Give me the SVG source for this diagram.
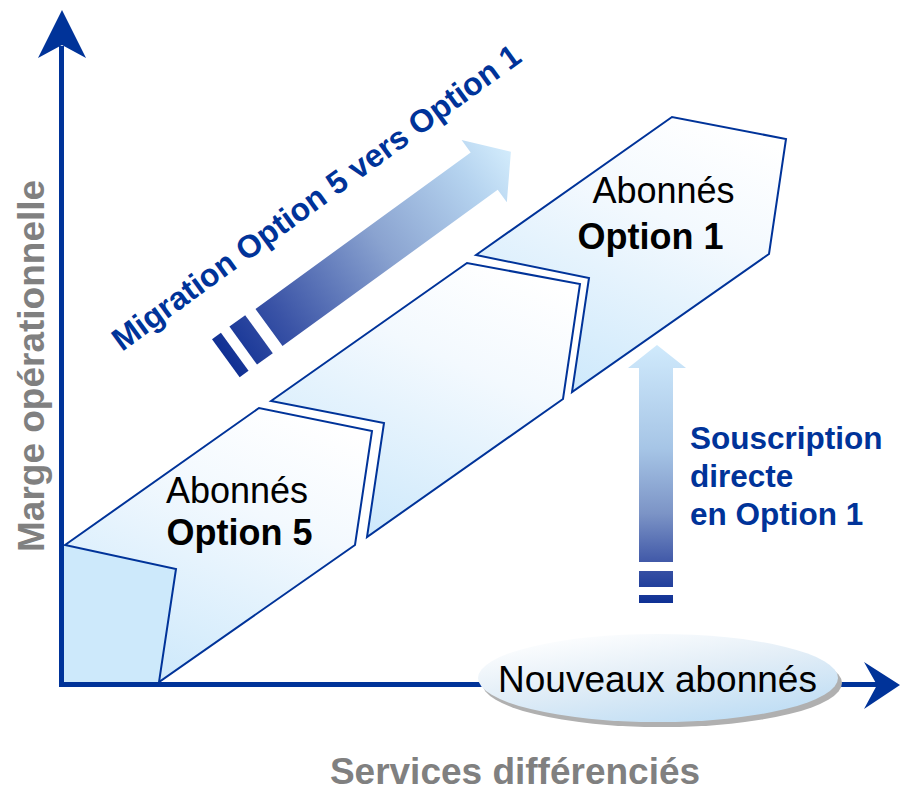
<svg xmlns="http://www.w3.org/2000/svg" width="901" height="792" viewBox="0 0 901 792">
<style>
.shape{stroke:#003399;stroke-width:2;fill:url(#shapeGrad);stroke-linejoin:miter}
.axis{stroke:#003399;stroke-width:5;fill:none}
.axhead{fill:#003399}
.lbl{font-family:"Liberation Sans",Arial,sans-serif;font-size:36px;fill:#000}
.b{font-weight:bold}
.gray{font-family:"Liberation Sans",Arial,sans-serif;font-weight:bold;fill:#808080}
.blue{font-family:"Liberation Sans",Arial,sans-serif;font-weight:bold;fill:#003399}
</style>
<defs>
<linearGradient id="shapeGrad" x1="0.75" y1="0" x2="0.25" y2="1">
<stop offset="0" stop-color="#ffffff"/>
<stop offset="0.35" stop-color="#f3f9fe"/>
<stop offset="1" stop-color="#cce8fb"/>
</linearGradient>
<linearGradient id="migGrad" gradientUnits="userSpaceOnUse" x1="-55" y1="0" x2="300" y2="0">
<stop offset="0" stop-color="#0f2f93"/>
<stop offset="0.2" stop-color="#3a53a6"/>
<stop offset="0.55" stop-color="#8aa3d0"/>
<stop offset="0.85" stop-color="#b5d3ef"/>
<stop offset="1" stop-color="#d3ecfc"/>
</linearGradient>
<linearGradient id="subGrad" gradientUnits="userSpaceOnUse" x1="0" y1="345" x2="0" y2="604">
<stop offset="0" stop-color="#d0eafc"/>
<stop offset="0.4" stop-color="#a6c5e6"/>
<stop offset="0.65" stop-color="#7c94c6"/>
<stop offset="0.85" stop-color="#3d55a6"/>
<stop offset="1" stop-color="#0d2f94"/>
</linearGradient>
<linearGradient id="ellGrad" x1="0.2" y1="0" x2="0.8" y2="1">
<stop offset="0" stop-color="#ffffff"/>
<stop offset="0.45" stop-color="#e3eef7"/>
<stop offset="1" stop-color="#bcdcf4"/>
</linearGradient>
</defs>

<g id="corner-fill">
<polygon points="62,545 176,569 159,684 62,684" fill="#cde9fb"/>
</g>

<g id="node-option5">
<polygon class="shape" points="65,545 259,408 372,431 355,545 159,682 176,569"/>
<text class="lbl" x="237" y="503" text-anchor="middle">Abonnés</text>
<text class="lbl b" x="239.5" y="545" text-anchor="middle">Option 5</text>
</g>

<g id="node-middle">
<polygon class="shape" points="271,401 467,263 580,284 563,399 367,537 384,423"/>
</g>

<g id="node-option1">
<polygon class="shape" points="476,255 672,117 786,139 769,254 572,392 589,278"/>
<text class="lbl" x="663.5" y="203" text-anchor="middle">Abonnés</text>
<text class="lbl b" x="650.5" y="249" text-anchor="middle">Option 1</text>
</g>

<g id="connectors">
<line class="axis" x1="61.5" y1="687" x2="61.5" y2="46"/>
<polygon class="axhead" points="62,10 86,58 62,45 38,58"/>
<line class="axis" x1="59" y1="684.5" x2="880" y2="684.5"/>
<polygon class="axhead" points="900,685 864,709 877,685 864,662"/>
</g>

<g id="node-nouveaux">
<ellipse cx="662" cy="683" rx="180" ry="44" fill="#b0b0b0"/>
<ellipse cx="658" cy="678" rx="180" ry="44" fill="url(#ellGrad)"/>
<text class="lbl" x="657.5" y="692" text-anchor="middle" style="font-size:37px">Nouveaux abonnés</text>
</g>

<g id="arrow-migration" transform="translate(269,327.5) rotate(-36)">
<rect x="-53" y="-24" width="11" height="47" fill="url(#migGrad)"/>
<rect x="-31.5" y="-24" width="19.5" height="47" fill="url(#migGrad)"/>
<polygon points="0,-23 266,-23 266,-38.5 299,0 266,38.5 266,23 0,23" fill="url(#migGrad)"/>
</g>

<g id="arrow-souscription">
<polygon points="639,368 628,368 657,345 686,368 673,368 673,562 639,562" fill="url(#subGrad)"/>
<rect x="639" y="571" width="34" height="16" fill="url(#subGrad)"/>
<rect x="639" y="595" width="34" height="8" fill="url(#subGrad)"/>
</g>

<g id="labels">
<text class="blue" style="font-size:32px" transform="translate(122,352) rotate(-36)">Migration Option 5 vers Option 1</text>
<text class="blue" style="font-size:31.5px" x="690" y="449">Souscription</text>
<text class="blue" style="font-size:31.5px" x="690" y="487">directe</text>
<text class="blue" style="font-size:31.5px" x="690" y="525">en Option 1</text>
<text class="gray" style="font-size:37px" transform="translate(44,552) rotate(-90)">Marge opérationnelle</text>
<text class="gray" style="font-size:37px" x="515" y="784" text-anchor="middle">Services différenciés</text>
</g>
</svg>
